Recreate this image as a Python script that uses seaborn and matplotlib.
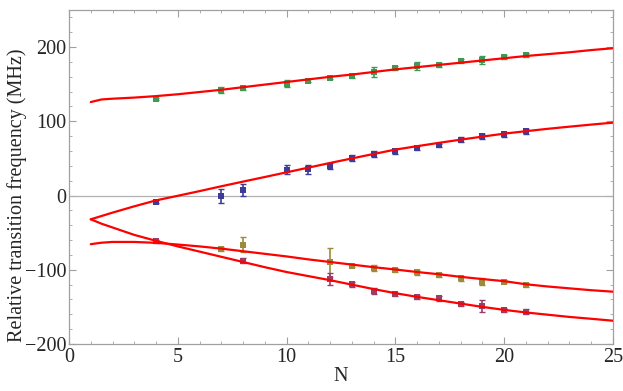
"""
Relative transition frequency vs N: measured points with fitted curves
"""
import numpy as np
import pandas as pd
import matplotlib
matplotlib.use("Agg")
import matplotlib.pyplot as plt
from matplotlib.ticker import MultipleLocator
import seaborn as sns

# measured points (N, value, error) per branch
green_n = [4, 7, 8, 10, 11, 12, 13, 14, 15, 16, 17, 18, 19, 20, 21]
green_f = [130.5, 142.6, 144.3, 150.6, 155.0, 158.7, 160.9, 166.3, 172.0, 174.3, 175.7, 181.0, 182.9, 186.4, 189.1]
green_e = [1.5, 4, 2, 5, 2.5, 2, 3, 7, 3, 5, 3, 3, 5, 3, 3]

blue_n = [4, 7, 8, 10, 11, 12, 13, 14, 15, 16, 17, 18, 19, 20, 21]
blue_f = [-8.5, -1.0, 7.0, 34.7, 35.4, 40.0, 50.6, 56.5, 59.6, 64.0, 67.7, 75.3, 79.8, 82.4, 86.5]
blue_e = [2, 9.5, 8, 6, 6, 4, 4, 4, 3, 3, 2, 3, 3, 3, 3]

gold_n = [7, 8, 12, 13, 14, 15, 16, 17, 18, 19, 20, 21]
gold_f = [-72.0, -66.0, -90.0, -94.7, -97.3, -100.5, -103.6, -107.2, -111.7, -116.0, -116.2, -120.6]
gold_e = [3, 10, 20, 2, 4, 3, 3, 3, 3, 5, 2, 3]

purple_n = [4, 8, 12, 13, 14, 15, 16, 17, 18, 19, 20, 21]
purple_f = [-61.5, -87.5, -113.0, -119.7, -128.7, -133.2, -136.4, -138.6, -146.2, -149.0, -154.3, -156.5]
purple_e = [2, 4, 8, 3, 4, 2.5, 3, 3, 3, 8, 3, 3]

# fitted curves
curve_n = [1, 1.5, 2, 3, 4, 5, 6, 7, 8, 9, 10, 11, 12, 13,
           14, 15, 16, 17, 18, 19, 20, 21, 22, 23, 24, 25]
top_curve = [126, 129.5, 130.5, 132, 134, 136.5, 139.5, 142.5, 146, 149.5, 153, 156.5, 160, 163,
             166.5, 170, 173, 176, 179, 182, 185, 188, 190.5, 193, 196, 198.5]
mid_curve = [-32, -27.5, -23, -14.5, -6.5, -0.3, 6, 12.5, 18.8, 25, 31.3, 37.6, 43.9, 50,
             56, 61.9, 66.5, 71, 75.3, 79.4, 83.4, 86.7, 89.9, 92.8, 95.6, 98.2]
gold_curve = [-65.5, -63.5, -62.5, -62.5, -63.7, -66, -68.5, -71.5, -75, -78.5, -82, -86, -89.5, -93,
              -96.5, -99.6, -103, -106, -109.5, -112.5, -115.3, -119.5, -122.5, -125, -127.5, -129.5]
low_curve = [-32, -38, -43, -53, -61, -68.5, -75.5, -82.5, -89.5, -96.5, -103, -108.5, -114, -120,
             -126, -131.5, -136.5, -141, -145.5, -150, -154, -157.5, -160.5, -163.5, -166, -168.6]

colors = {
    "green": (0.24, 0.6, 0.33),
    "blue": (0.24, 0.24, 0.6),
    "gold": (0.6, 0.55, 0.24),
    "purple": (0.6, 0.24, 0.42),
}

sns.set_style("ticks")
plt.rcParams["font.family"] = ["Liberation Serif", "DejaVu Serif"]

fig = plt.figure(figsize=(6.23, 3.91), dpi=100)
ax = fig.add_axes([0.1108, 0.1202, 0.8728, 0.8542])

ax.axhline(0, color="#b0b0b0", lw=0.9, zorder=1)

curves = pd.DataFrame({"N": curve_n, "top": top_curve, "mid": mid_curve,
                       "gold": gold_curve, "low": low_curve})
for col in ["top", "mid", "gold", "low"]:
    sns.lineplot(data=curves, x="N", y=col, color="red", lw=1.6, sort=False, ax=ax, zorder=3)

series = [
    (green_n, green_f, green_e, "green"),
    (blue_n, blue_f, blue_e, "blue"),
    (gold_n, gold_f, gold_e, "gold"),
    (purple_n, purple_f, purple_e, "purple"),
]
for n, f, e, c in series:
    ax.errorbar(n, f, yerr=e, fmt="none", ecolor=colors[c], elinewidth=1.2,
                capsize=2.0, capthick=1.0, zorder=2)
    sns.scatterplot(x=n, y=f, color=colors[c], marker="s", s=15, linewidth=0,
                    ax=ax, zorder=2.5)

ax.set_xlim(0, 25)
ax.set_ylim(-200, 250)
ax.xaxis.set_major_locator(MultipleLocator(5))
ax.xaxis.set_minor_locator(MultipleLocator(1))
ax.yaxis.set_major_locator(MultipleLocator(100))
ax.yaxis.set_minor_locator(MultipleLocator(20))
ax.tick_params(which="both", direction="in", top=True, right=True,
               color="#a0a0a0", labelsize=14.5)
ax.tick_params(axis="y", pad=2)
ax.tick_params(axis="x", pad=3)
ax.tick_params(which="major", length=5, width=0.8)
ax.tick_params(which="minor", length=2.5, width=0.6)
for sp in ax.spines.values():
    sp.set_color("#a0a0a0")
    sp.set_linewidth(0.9)

ax.set_xlabel("N", fontsize=14.5, labelpad=0)
ax.set_ylabel("Relative transition frequency (MHz)", fontsize=14.5)
ax.yaxis.set_label_coords(-0.078, 0.446)

plt.savefig("out.png", dpi=100)
